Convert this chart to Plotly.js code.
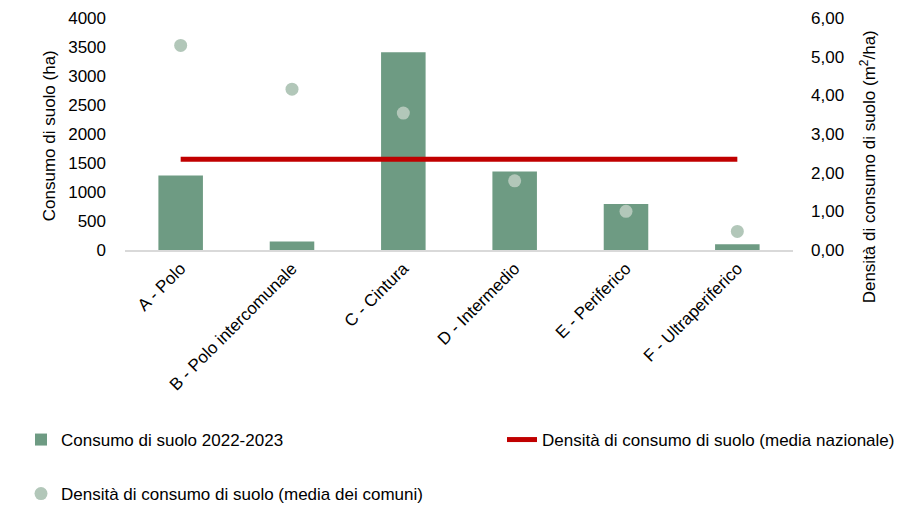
<!DOCTYPE html>
<html>
<head>
<meta charset="utf-8">
<script src="https://cdn.plot.ly/plotly-3.0.1.min.js"></script>
<style>html,body{margin:0;padding:0;background:#fff;}#chart{width:900px;height:508px;}</style>
</head>
<body>
<div id="chart"></div>
<script>
const categories = ["A - Polo", "B - Polo intercomunale", "C - Cintura", "D - Intermedio", "E - Periferico", "F - Ultraperiferico"];
const consumo = [1285, 147, 3408, 1354, 793, 100];
const densitaComuni = [5.29, 4.16, 3.54, 1.79, 1.00, 0.48];
const densitaNazionale = [2.35, 2.35, 2.35, 2.35, 2.35, 2.35];
const leftTitle = 'Consumo di suolo (ha)';
const rightTitle = 'Densità di consumo di suolo (m<sup>2</sup>/ha)';

const FONT = "'Liberation Sans', Arial, sans-serif";
const FS = 17;
const txt = {family: FONT, size: FS, color: '#000'};

const traces = [
  {
    type: 'bar', x: categories, y: consumo, name: 'Consumo di suolo 2022-2023',
    marker: {color: '#6e9b83'}, yaxis: 'y', legend: 'legend', hoverinfo: 'skip'
  },
  {
    type: 'scatter', mode: 'lines', x: categories, y: densitaNazionale, yaxis: 'y2',
    name: 'Densità di consumo di suolo (media nazionale)',
    line: {color: '#c00000', width: 5}, legend: 'legend3', hoverinfo: 'skip'
  },
  {
    type: 'scatter', mode: 'markers', x: categories, y: densitaComuni, yaxis: 'y2',
    name: 'Densità di consumo di suolo (media dei comuni)',
    marker: {color: '#b2c7b9', size: 13}, legend: 'legend2', hoverinfo: 'skip'
  }
];

const layout = {
  width: 900, height: 508,
  margin: {l: 125, r: 107, t: 18, b: 258},
  paper_bgcolor: '#fff', plot_bgcolor: '#fff',
  font: txt,
  separators: ',.',
  bargap: 0.6,
  showlegend: true,
  xaxis: {
    tickangle: -45, showgrid: false, zeroline: false,
    showline: true, linecolor: '#d9d9d9', linewidth: 2,
    ticks: '', tickfont: txt, automargin: false
  },
  yaxis: {
    range: [0, 4000], dtick: 500, tickformat: '.0f', showgrid: false, zeroline: false,
    showline: false, ticks: '', ticklabelstandoff: 18,
    tickfont: txt, automargin: false
  },
  yaxis2: {
    range: [0, 6], dtick: 1, tickformat: '.2f', overlaying: 'y', side: 'right',
    showgrid: false, zeroline: false, showline: false, ticks: '', ticklabelstandoff: 17,
    tickfont: txt, automargin: false
  },
  annotations: [
    {text: leftTitle, xref: 'paper', yref: 'paper', x: (49 - 125) / 668, y: (249.5 - 136) / 231.5,
     xanchor: 'center', yanchor: 'middle', textangle: -90, showarrow: false, font: txt},
    {text: rightTitle, xref: 'paper', yref: 'paper', x: (868 - 125) / 668, y: (249.5 - 166) / 231.5,
     xanchor: 'center', yanchor: 'middle', textangle: -90, showarrow: false, font: txt}
  ],
  legend: {
    orientation: 'h', xref: 'container', yref: 'container',
    x: 21 / 900, xanchor: 'left', y: 1 - 440 / 508, yanchor: 'middle',
    font: txt, bgcolor: 'rgba(0,0,0,0)'
  },
  legend3: {
    orientation: 'h', xref: 'container', yref: 'container',
    x: 1, xanchor: 'right', y: 1 - 440 / 508, yanchor: 'middle',
    font: txt, bgcolor: 'rgba(0,0,0,0)'
  },
  legend2: {
    orientation: 'h', xref: 'container', yref: 'container',
    x: 21 / 900, xanchor: 'left', y: 1 - 494 / 508, yanchor: 'middle',
    font: txt, bgcolor: 'rgba(0,0,0,0)'
  }
};

Plotly.newPlot('chart', traces, layout, {displayModeBar: false, staticPlot: true});
</script>
</body>
</html>
